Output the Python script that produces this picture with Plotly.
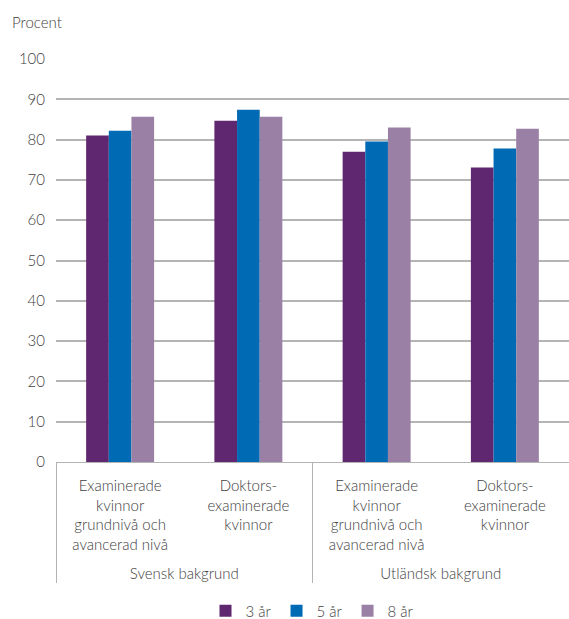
import plotly.graph_objects as go

groups = ["Svensk bakgrund", "Svensk bakgrund", "Utländsk bakgrund", "Utländsk bakgrund"]
categories = [
    "Examinerade<br>kvinnor<br>grundnivå och<br>avancerad nivå<br> ",
    "Doktors-<br>examinerade<br>kvinnor",
    "Examinerade<br>kvinnor<br>grundnivå och<br>avancerad nivå<br> ",
    "Doktors-<br>examinerade<br>kvinnor",
]
series_names = ["3 år", "5 år", "8 år"]
values_3 = [81.0, 84.7, 77.0, 73.1]
values_5 = [82.2, 87.4, 79.5, 77.8]
values_8 = [85.7, 85.7, 83.0, 82.7]
colors = ["#5f276f", "#006ab4", "#9b80a6"]
y_ticks = [0, 10, 20, 30, 40, 50, 60, 70, 80, 90, 100]

txt = dict(family="Lato, 'Open Sans', sans-serif", size=15, color="#404040", weight=300)

fig = go.Figure()
for name, vals, col in zip(series_names, [values_3, values_5, values_8], colors):
    fig.add_trace(go.Bar(x=[groups, categories], y=vals, name=name,
                         marker=dict(color=col, line=dict(width=0))))

fig.update_layout(
    width=569, height=619,
    margin=dict(l=56, r=0, t=59, b=157),
    paper_bgcolor="white", plot_bgcolor="white",
    font=txt,
    barmode="group", bargap=0.47, bargroupgap=0,
    showlegend=True,
    legend=dict(orientation="h", x=0.5, xanchor="center",
                yref="container", y=8 / 619, yanchor="middle",
                font=txt, itemwidth=30, traceorder="normal"),
    xaxis=dict(type="multicategory", showline=True, linecolor="#b4b4b4", linewidth=1,
               showdividers=True, dividercolor="#b4b4b4", dividerwidth=1,
               tickfont=txt, ticks="", ticklabelstandoff=10, automargin=False),
    yaxis=dict(range=[0, 100], tickvals=y_ticks, showgrid=True, gridcolor="#b4b4b4",
               gridwidth=1.5, zeroline=False, showline=False, ticks="",
               ticklabelstandoff=10, tickfont=txt, automargin=False),
    annotations=[dict(text="Procent", xref="paper", yref="paper", x=-0.0897, y=1.092,
                      xanchor="left", yanchor="middle", showarrow=False, font=txt)],
)

fig.write_html("out.html", config={"displayModeBar": False},
               post_script="document.body.style.margin='0px';")
